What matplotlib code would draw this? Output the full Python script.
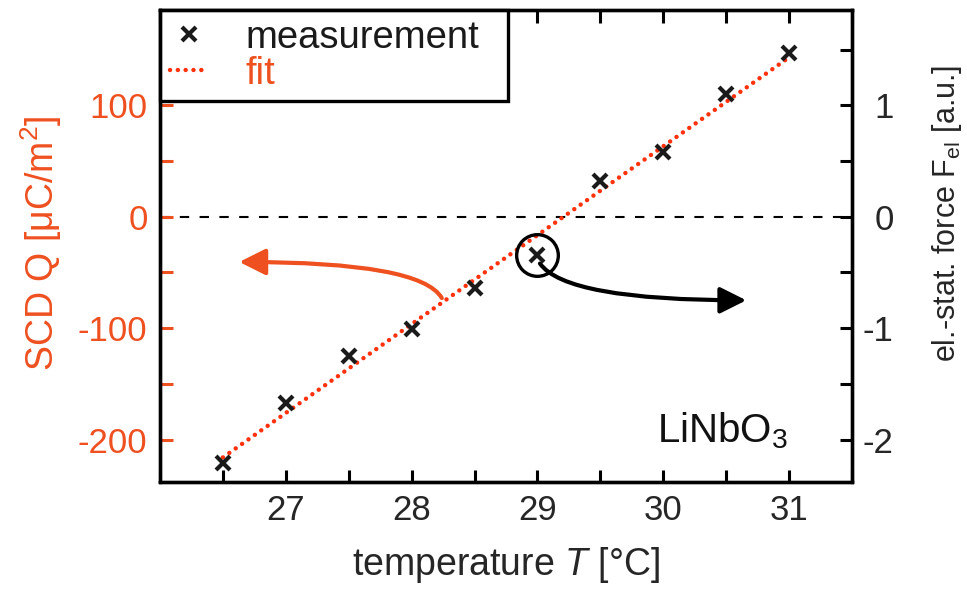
import numpy as np
import matplotlib
matplotlib.use('Agg')
import matplotlib.pyplot as plt
from matplotlib.patches import FancyArrowPatch
from matplotlib.ticker import MultipleLocator, FixedLocator

plt.rcParams['font.family'] = ['Liberation Sans', 'DejaVu Sans']
plt.rcParams['mathtext.fontset'] = 'custom'
plt.rcParams['mathtext.rm'] = 'Liberation Sans'
plt.rcParams['mathtext.it'] = 'Liberation Sans:italic'
plt.rcParams['mathtext.bf'] = 'Liberation Sans:bold'
plt.rcParams['axes.unicode_minus'] = False

# ---- data ----
temperature = [26.5, 27.0, 27.5, 28.0, 28.5, 29.0, 29.5, 30.0, 30.5, 31.0]
scd_q = [-221, -167, -125, -101, -64, -34, 32, 58, 110, 147]
fit_T = [26.5, 31.0]
fit_Q = [-216, 143]
x_ticks = [27, 28, 29, 30, 31]
q_ticks = [-200, -100, 0, 100]
f_ticks = [-2, -1, 0, 1]
highlight_index = 5

# annotation arrows (start, tip) in data coordinates
arrow_left = ((28.24, -73), (26.63, -40.6))
arrow_right = ((29.02, -42), (30.66, -75))

ORANGE = '#ef5020'
FIT = '#ff300c'
DARK = '#262626'

fig = plt.figure(figsize=(9.67, 5.98), dpi=100)
ax = fig.add_axes([160/967, 1-481.5/598, 692/967, 471.5/598])
ax.set_xlim(26, 31.5)
ax.set_ylim(-237.6, 185.5)

ax.axhline(0, color='k', lw=1.5, dashes=(4.5, 5.0), zorder=1)
ax.plot(fit_T, fit_Q, color=FIT, lw=3.2, linestyle=(0, (0.01, 1.75)),
        dash_capstyle='round', label='fit', zorder=2)
ax.plot(temperature, scd_q, 'x', color='#1a1a1a', ms=10, mew=3.0,
        label='measurement', zorder=3)
ax.plot(temperature[highlight_index], scd_q[highlight_index], 'o', ms=30,
        mfc='none', mec='k', mew=2.4, zorder=4)

for (start, tip), col, angA in ((arrow_left, ORANGE, 120), (arrow_right, 'k', -55)):
    arr = FancyArrowPatch(start, tip, connectionstyle=f'angle3,angleA={angA},angleB=0',
                          arrowstyle='-|>', mutation_scale=40, lw=3.0, color=col,
                          shrinkA=0, shrinkB=0, zorder=4)
    ax.add_patch(arr)

ax.text(29.95, -202.8, 'LiNbO$_3$', fontsize=29, color='#111111',
        ha='left', va='baseline')

# axes styling
ax.xaxis.set_major_locator(FixedLocator(x_ticks))
ax.xaxis.set_minor_locator(MultipleLocator(0.5))
ax.yaxis.set_major_locator(FixedLocator(q_ticks))
ax.yaxis.set_minor_locator(MultipleLocator(50))
ax.tick_params(axis='x', which='both', direction='in', length=9, width=2.2,
               top=True, bottom=True, labelsize=25, pad=9, labelcolor=DARK)
ax.tick_params(axis='y', which='both', direction='in', length=9, width=2.2,
               left=True, right=False, color=ORANGE, labelcolor=ORANGE,
               labelsize=25, pad=9)
for s in ax.spines.values():
    s.set_linewidth(2.4)

ax.set_xlabel('temperature $T$ [°C]', fontsize=27, color=DARK, labelpad=13)
ax.set_ylabel('SCD Q [μC/m$^2$]', fontsize=27, color=ORANGE)
ax.yaxis.set_label_coords(-0.139, 0.506)

ax2 = ax.twinx()
ax2.set_ylim(-2.376, 1.855)
ax2.yaxis.set_major_locator(FixedLocator(f_ticks))
ax2.yaxis.set_minor_locator(MultipleLocator(0.5))
ax2.tick_params(axis='y', which='both', direction='in', length=9, width=2.2,
                color='k', labelcolor=DARK, labelsize=25, pad=30)
for lab in ax2.get_yticklabels():
    lab.set_horizontalalignment('right')
for s in ax2.spines.values():
    s.set_linewidth(2.4)
ax2.set_ylabel('el.-stat. force F$_{\\mathrm{el}}$ [a.u.]', fontsize=22, color=DARK)
ax2.yaxis.set_label_coords(1.113, 0.569)

handles, labels = ax.get_legend_handles_labels()
order = [labels.index('measurement'), labels.index('fit')]
leg = ax.legend([handles[i] for i in order], [labels[i] for i in order],
                loc='upper left', bbox_to_anchor=(0, 0, 348/692, 1),
                mode='expand', borderaxespad=0,
                fancybox=False, framealpha=1, edgecolor='k', fontsize=27.5,
                handlelength=1.0, handletextpad=1.0, borderpad=0.25,
                labelspacing=0.0)
leg.get_frame().set_linewidth(2.4)
leg.get_texts()[0].set_color('#1a1a1a')
leg.get_texts()[1].set_color(ORANGE)

fig.savefig('out.png', dpi=100, facecolor='white')
